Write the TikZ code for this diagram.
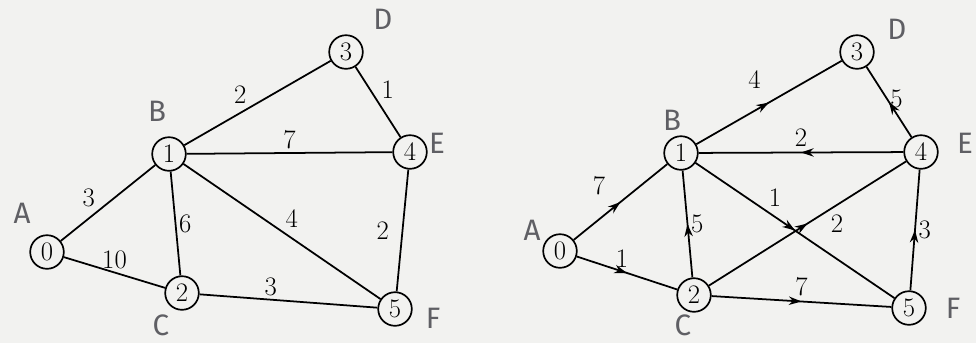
\documentclass[tikz,border=0pt]{standalone}
\usepackage{fontspec}
\newfontfamily\handfont{Fira Sans}
\usetikzlibrary{arrows.meta,decorations.markings}

\definecolor{paper}{RGB}{242,242,240}
\definecolor{pencil}{RGB}{95,95,100}

\begin{document}
\begin{tikzpicture}[
        x=0.025cm, y=-0.025cm,
        vertex/.style={
            draw,
            circle,
            line width=1.2pt,
            fill=paper,
            minimum size=0.84cm,
            inner sep=0pt,
            font=\fontsize{19}{21}\selectfont
        },
        wt/.style={
            inner sep=2pt,
            font=\fontsize{19}{21}\selectfont
        },
        hand/.style={
            text=pencil,
            font=\handfont\fontsize{21}{23}\selectfont
        },
        edge/.style={line width=1.25pt},
        midarrow/.style={
            edge,
            postaction={decorate},
            decoration={markings,
                mark=at position 0.5 with {\arrow{Stealth[length=9pt,width=6pt]}}}
        }
    ]

        \fill[paper] (0,0) rectangle (976,343);
        \useasboundingbox (0,0) rectangle (976,343);

        % undirected graph
        \node[vertex] (l0) at (47,252) {0};
        \node[vertex] (l1) at (169,154) {1};
        \node[vertex] (l2) at (182,293) {2};
        \node[vertex] (l3) at (346,52) {3};
        \node[vertex] (l4) at (410,152) {4};
        \node[vertex] (l5) at (395,309) {5};

        \node[hand] (lA) at (22,213) {A};
        \node[hand] (lB) at (157,111) {B};
        \node[hand] (lC) at (161,325) {C};
        \node[hand] (lD) at (383,19) {D};
        \node[hand] (lE) at (437,143) {E};
        \node[hand] (lF) at (433,318) {F};

        \draw[edge] (l0) -- node[wt, pos=0.4, above left] {3} (l1);
        \draw[edge] (l0) -- node[wt, above] {10} (l2);
        \draw[edge] (l1) -- node[wt, right] {6} (l2);
        \draw[edge] (l1) -- node[wt, pos=0.45, above left] {2} (l3);
        \draw[edge] (l1) -- node[wt, above] {7} (l4);
        \draw[edge] (l1) -- node[wt, above right] {4} (l5);
        \draw[edge] (l3) -- node[wt, above right] {1} (l4);
        \draw[edge] (l4) -- node[wt, left=7pt] {2} (l5);
        \draw[edge] (l2) -- node[wt, pos=0.4, above] {3} (l5);

        % directed graph
        \node[vertex] (r0) at (560,251) {0};
        \node[vertex] (r1) at (681,153) {1};
        \node[vertex] (r2) at (694,295) {2};
        \node[vertex] (r3) at (857,52) {3};
        \node[vertex] (r4) at (921,152) {4};
        \node[vertex] (r5) at (909,308) {5};

        \node[hand] (rA) at (532,230) {A};
        \node[hand] (rB) at (672,120) {B};
        \node[hand] (rC) at (683,325) {C};
        \node[hand] (rD) at (897,29) {D};
        \node[hand] (rE) at (965,143) {E};
        \node[hand] (rF) at (953,308) {F};

        \draw[midarrow] (r0) -- node[wt, pos=0.45, above left=5pt] {7} (r1);
        \draw[midarrow] (r0) -- node[wt, pos=0.45, above] {1} (r2);
        \draw[midarrow] (r2) -- node[wt, right] {5} (r1);
        \draw[midarrow] (r1) -- node[wt, pos=0.4, above=13pt] {4} (r3);
        \draw[midarrow] (r4) -- node[wt, above=2pt] {2} (r1);
        \draw[midarrow] (r1) -- node[wt, pos=0.35, above right] {1} (r5);
        \draw[midarrow] (r2) -- node[wt, pos=0.6, below right] {2} (r4);
        \draw[midarrow] (r4) -- node[wt, pos=0.55, right] {5} (r3);
        \draw[midarrow] (r5) -- node[wt, right] {3} (r4);
        \draw[midarrow] (r2) -- node[wt, above=1pt] {7} (r5);

    \end{tikzpicture}
\end{document}
